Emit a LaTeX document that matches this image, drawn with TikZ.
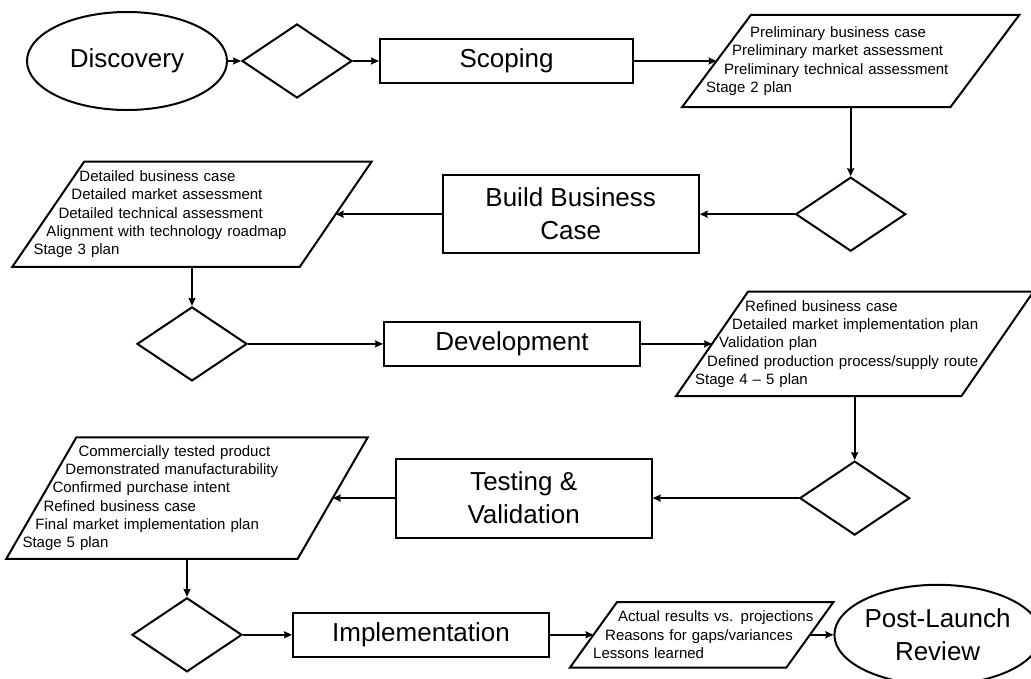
\documentclass[tikz,border=0pt]{standalone}
\usepackage{fontspec}
\setmainfont{Liberation Sans}
\usetikzlibrary{shapes.geometric, arrows, arrows.meta, positioning, calc}
\newcommand{\titlesize}{\fontsize{26}{33}\selectfont}
\newcommand{\listsize}{\fontsize{15}{18.3}\selectfont}
\tikzstyle{stagebox} = [draw, line width=2pt, minimum width=256pt, minimum height=44pt, align=center, font=\titlesize, inner sep=0pt]
\tikzstyle{gate} = [draw, diamond, line width=2pt, minimum width=110pt, minimum height=74pt, inner sep=0pt]
\tikzstyle{terminal} = [draw, ellipse, line width=2pt, minimum width=200pt, minimum height=98pt, align=center, font=\titlesize, inner sep=0pt]
\tikzstyle{outputs} = [inner sep=0pt, align=left, font=\listsize]
\tikzstyle{slantline} = [line width=2pt]
\tikzstyle{arrow} = [line width=2pt,->,>={Stealth[length=8pt,width=7pt,inset=1pt]}]
% parallelogram round an outputs node: #1 node, #2 slant
\newcommand{\slantframe}[2]{\draw[slantline] ($(#1.north west)+(#2/2,0)$) -- ($(#1.north east)+(#2/2,0)$) -- ($(#1.south east)-(#2/2,0)$) -- ($(#1.south west)-(#2/2,0)$) -- cycle;}

\begin{document}
\begin{tikzpicture}[x=1pt,y=-1pt]
        \useasboundingbox (0,0) rectangle (1031,678);

        % Stage 1
        \node[terminal] (discovery) at (127,61) {Discovery};
        \node[gate, right=13pt of discovery] (gateone) {};
        \node[stagebox, minimum width=253pt, right=26pt of gateone] (scoping) {Scoping};
        \node[outputs, text width=268pt, minimum height=92pt, right=82.5pt of scoping] (stagetwo) {\hspace*{33.5pt}Preliminary business case\\
            \hspace*{15.5pt}Preliminary market assessment\\
            \hspace*{7.5pt}Preliminary technical assessment\\
            \hspace*{-10.5pt}Stage 2 plan};
        \slantframe{stagetwo}{69}

        % Stage 2
        \node[gate, below=69pt of stagetwo] (gatetwo) {};
        \node[stagebox, minimum height=78pt, left=95pt of gatetwo] (business) {Build Business\\Case};
        \node[outputs, text width=287pt, minimum height=105pt, left=106pt of business] (stagethree) {\hspace*{31pt}Detailed business case\\
            \hspace*{23pt}Detailed market assessment\\
            \hspace*{10pt}Detailed technical assessment\\
            \hspace*{-2pt}Alignment with technology roadmap\\
            \hspace*{-15pt}Stage 3 plan};
        \slantframe{stagethree}{72}

        % Stage 3
        \node[gate, below=39pt of stagethree] (gatethree) {};
        \node[stagebox, right=135pt of gatethree] (development) {Development};
        \node[outputs, text width=285pt, minimum height=104pt, right=71pt of development] (stagefour) {\hspace*{33pt}Refined business case\\
            \hspace*{20pt}Detailed market implementation plan\\
            \hspace*{7pt}Validation plan\\
            \hspace*{-5pt}\mbox{Defined production process/supply route}\\
            \hspace*{-17pt}Stage 4 -- 5 plan};
        \slantframe{stagefour}{72}

        % Stage 4
        \node[gate, below=64pt of stagefour] (gatefour) {};
        \node[stagebox, minimum height=79pt, left=146pt of gatefour] (testing) {Testing \&\\Validation};
        \node[outputs, text width=291pt, minimum height=121pt, left=62pt of testing] (stagefive) {\hspace*{37pt}Commercially tested product\\
            \hspace*{24pt}Demonstrated manufacturability\\
            \hspace*{11pt}Confirmed purchase intent\\
            \hspace*{2pt}Refined business case\\
            \hspace*{-6pt}Final market implementation plan\\
            \hspace*{-19pt}Stage 5 plan};
        \slantframe{stagefive}{70}

        % Stage 5
        \node[gate, below=38pt of stagefive] (gatefive) {};
        \node[stagebox, right=49pt of gatefive] (implementation) {Implementation};
        \node[outputs, text width=216pt, minimum height=65pt, right=43.5pt of implementation] (results) {\hspace*{24.5pt}\mbox{Actual results vs. projections}\\
            \hspace*{11.5pt}Reasons for gaps/variances\\
            \hspace*{-0.5pt}Lessons learned};
        \slantframe{results}{47}
        \node[terminal, minimum width=195pt, minimum height=100pt, right=23.5pt of results] (review) {Post-Launch\\Review};

        % Arrows
        \draw[arrow] (discovery) -- (gateone);
        \draw[arrow] (gateone) -- (scoping);
        \draw[arrow] (scoping) -- (stagetwo.west);
        \draw[arrow] (stagetwo.south) -- (gatetwo);
        \draw[arrow] (gatetwo) -- (business);
        \draw[arrow] (business) -- (stagethree.east);
        \draw[arrow] (stagethree.south) -- (gatethree);
        \draw[arrow] (gatethree) -- (development);
        \draw[arrow] (development) -- (stagefour.west);
        \draw[arrow] (stagefour.south) -- (gatefour);
        \draw[arrow] (gatefour) -- (testing);
        \draw[arrow] (testing) -- (stagefive.east);
        \draw[arrow] (stagefive.south) -- (gatefive);
        \draw[arrow] (gatefive) -- (implementation);
        \draw[arrow] (implementation) -- (results.west);
        \draw[arrow] (results.east) -- (review);
    \end{tikzpicture}
\end{document}
